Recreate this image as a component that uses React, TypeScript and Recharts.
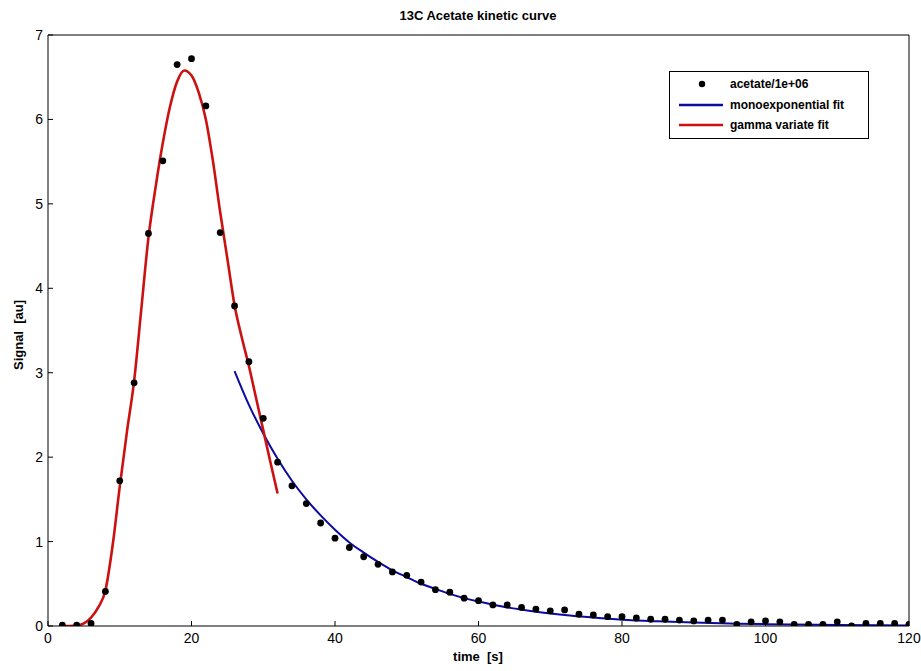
import { ComposedChart, Line, Scatter, XAxis, YAxis } from 'recharts'

// measured samples (signal / 1e6)
const sampleTime = [
  2, 4, 6, 8, 10, 12, 14, 16, 18, 20,
  22, 24, 26, 28, 30, 32, 34, 36, 38, 40,
  42, 44, 46, 48, 50, 52, 54, 56, 58, 60,
  62, 64, 66, 68, 70, 72, 74, 76, 78, 80,
  82, 84, 86, 88, 90, 92, 94, 96, 98, 100,
  102, 104, 106, 108, 110, 112, 114, 116, 118, 120,
]
const acetate = [
  0.01, 0.01, 0.03, 0.41, 1.72, 2.88, 4.65, 5.51, 6.65, 6.72,
  6.16, 4.66, 3.79, 3.13, 2.46, 1.94, 1.66, 1.45, 1.22, 1.04,
  0.93, 0.82, 0.73, 0.64, 0.6, 0.52, 0.43, 0.4, 0.33, 0.3,
  0.25, 0.25, 0.22, 0.2, 0.18, 0.19, 0.14, 0.13, 0.11, 0.11,
  0.095, 0.08, 0.08, 0.07, 0.06, 0.07, 0.07, 0.02, 0.05, 0.06,
  0.05, 0.02, 0.02, 0.02, 0.05, 0.0, 0.03, 0.03, 0.03, 0.02,
]

// gamma variate fit
const gammaTime = [
  2, 3, 4, 5, 6, 7, 8, 9, 10, 11, 12, 13, 14, 15, 16, 17,
  18, 19, 20, 21, 22, 23, 24, 25, 26, 27, 28, 29, 30, 31, 32,
]
const gammaFit = [
  0.0, 0.0, 0.005, 0.03, 0.1, 0.22, 0.42, 0.95, 1.65, 2.3, 2.9, 3.75, 4.6, 5.2, 5.72, 6.15,
  6.45, 6.58, 6.52, 6.32, 6.0, 5.5, 4.9, 4.35, 3.8, 3.42, 3.08, 2.7, 2.32, 1.94, 1.57,
]

// monoexponential fit
const monoTime = [
  26, 28, 30, 32, 34, 36, 38, 40, 42, 44, 46, 48, 50, 52, 54, 56, 58, 60,
  64, 68, 72, 76, 80, 85, 90, 95, 100, 110, 120,
]
const monoFit = [
  3.02, 2.62, 2.28, 1.98, 1.72, 1.5, 1.31, 1.14, 0.99, 0.87, 0.76, 0.66, 0.58, 0.5, 0.44, 0.38, 0.33, 0.29,
  0.22, 0.17, 0.13, 0.1, 0.075, 0.055, 0.04, 0.03, 0.022, 0.012, 0.006,
]

const xTicks = [0, 20, 40, 60, 80, 100, 120]
const yTicks = [0, 1, 2, 3, 4, 5, 6, 7]

const RED = '#cc1111'
const BLUE = '#0a0aa0'

const points = sampleTime.map((t, i) => ({ t, v: acetate[i] }))
const gammaData = gammaTime.map((t, i) => ({ t, v: gammaFit[i] }))
const monoData = monoTime.map((t, i) => ({ t, v: monoFit[i] }))

const tickFont = { fill: '#000', fontSize: 14 }

function Dot(props: any) {
  const { cx, cy } = props
  if (cx == null || cy == null) return null
  return <circle cx={cx} cy={cy} r={3.4} fill="#000" />
}

function LegendBox() {
  const rows = [
    { label: 'acetate/1e+06', kind: 'dot', color: '#000' },
    { label: 'monoexponential fit', kind: 'line', color: BLUE },
    { label: 'gamma variate fit', kind: 'line', color: RED },
  ]
  return (
    <div
      style={{
        position: 'absolute',
        left: 669,
        top: 71,
        width: 200,
        height: 68,
        border: '1px solid #000',
        background: '#fff',
        boxSizing: 'border-box',
        paddingTop: 2,
      }}
    >
      {rows.map((r) => (
        <div
          key={r.label}
          style={{ display: 'flex', alignItems: 'center', height: 20.5 }}
        >
          <svg width={60} height={12} style={{ flex: 'none' }}>
            {r.kind === 'dot' ? (
              <circle cx={32} cy={6} r={3.2} fill="#000" />
            ) : (
              <line x1={9} x2={53} y1={6} y2={6} stroke={r.color} strokeWidth={2.5} />
            )}
          </svg>
          <span style={{ fontSize: 12, fontWeight: 'bold', color: '#000' }}>
            {r.label}
          </span>
        </div>
      ))}
    </div>
  )
}

export default function App() {
  return (
    <div
      style={{
        position: 'absolute',
        left: 0,
        top: 0,
        width: 921,
        height: 671,
        background: '#fff',
        fontFamily: 'Arial, "Liberation Sans", sans-serif',
      }}
    >
      <div
        style={{
          position: 'absolute',
          left: 48,
          width: 860,
          top: 8,
          textAlign: 'center',
          fontSize: 13,
          fontWeight: 'bold',
          color: '#000',
        }}
      >
        13C Acetate kinetic curve
      </div>
      <div
        style={{
          position: 'absolute',
          left: 48,
          width: 860,
          top: 649,
          textAlign: 'center',
          fontSize: 13,
          fontWeight: 'bold',
          color: '#000',
          whiteSpace: 'pre',
        }}
      >
        {'time  [s]'}
      </div>
      <div
        style={{
          position: 'absolute',
          left: 18,
          top: 335,
          transform: 'translate(-50%, -50%) rotate(-90deg)',
          fontSize: 13,
          fontWeight: 'bold',
          color: '#000',
          whiteSpace: 'pre',
        }}
      >
        {'Signal  [au]'}
      </div>
      <ComposedChart
        width={921}
        height={671}
        margin={{ top: 34, right: 11, bottom: 15, left: 8 }}
        style={{ position: 'absolute', left: 0, top: 0 }}
      >
        <XAxis
          xAxisId={0}
          dataKey="t"
          type="number"
          domain={[0, 120]}
          ticks={xTicks}
          height={30}
          tick={tickFont}
          tickSize={-5}
          tickMargin={12}
          axisLine={{ stroke: '#000' }}
          tickLine={{ stroke: '#000' }}
          allowDataOverflow
        />
        <XAxis
          xAxisId="top"
          orientation="top"
          dataKey="t"
          type="number"
          domain={[0, 120]}
          ticks={xTicks}
          height={1}
          tick={false}
          tickSize={-5}
          axisLine={{ stroke: '#000' }}
          tickLine={{ stroke: '#000' }}
          allowDataOverflow
        />
        <YAxis
          yAxisId={0}
          dataKey="v"
          type="number"
          domain={[0, 7]}
          ticks={yTicks}
          width={40}
          tick={tickFont}
          tickSize={-5}
          tickMargin={10}
          axisLine={{ stroke: '#000' }}
          tickLine={{ stroke: '#000' }}
          allowDataOverflow
        />
        <YAxis
          yAxisId="right"
          orientation="right"
          dataKey="v"
          type="number"
          domain={[0, 7]}
          ticks={yTicks}
          width={1}
          tick={false}
          tickSize={-5}
          axisLine={{ stroke: '#000' }}
          tickLine={{ stroke: '#000' }}
          allowDataOverflow
        />
        <Line
          data={monoData}
          dataKey="v"
          type="monotone"
          stroke={BLUE}
          strokeWidth={2}
          dot={false}
          isAnimationActive={false}
        />
        {/* same domain as the main axes; bound here so the box frame axes render */}
        <Line
          data={gammaData}
          dataKey="v"
          xAxisId="top"
          yAxisId="right"
          type="monotone"
          stroke={RED}
          strokeWidth={2.6}
          dot={false}
          isAnimationActive={false}
        />
        <Scatter
          data={points}
          fill="#000"
          shape={Dot}
          isAnimationActive={false}
        />
      </ComposedChart>
      <LegendBox />
    </div>
  )
}
